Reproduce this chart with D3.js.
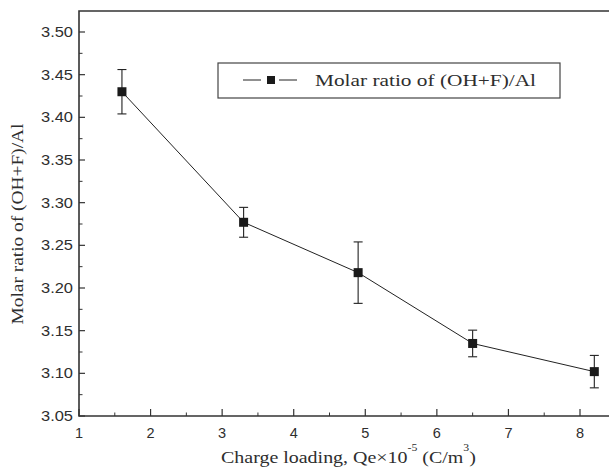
<!DOCTYPE html>
<html>
<head>
<meta charset="utf-8">
<script src="https://cdn.jsdelivr.net/npm/d3@7"></script>
<style>
  body { margin: 0; background: #fff; }
  svg { display: block; }
</style>
</head>
<body>
<div id="chart"></div>
<script>
// charge loading (x) and molar ratio (y) with error half-widths
const chargeLoading = [1.6, 3.3, 4.9, 6.5, 8.2];
const molarRatio = [3.430, 3.277, 3.218, 3.135, 3.102];
const errHalf = [0.026, 0.0175, 0.036, 0.0156, 0.019];
const xTicks = [1, 2, 3, 4, 5, 6, 7, 8];
const yTicks = [3.05, 3.10, 3.15, 3.20, 3.25, 3.30, 3.35, 3.40, 3.45, 3.50];

const width = 609, height = 471;
const margin = { left: 79, top: 11, bottom: 416 };

const svg = d3.select('#chart').append('svg')
  .attr('width', width)
  .attr('height', height);

const x = d3.scaleLinear().domain([1, 8]).range([margin.left, 580]);
const y = d3.scaleLinear().domain([3.05, 3.50]).range([margin.bottom, 32]);

const axisColor = '#333';
const textColor = '#2e2e2e';
const right = x(8.6);
const sans = "'Liberation Sans', Arial, sans-serif";
const serif = "'Liberation Serif', 'Times New Roman', serif";

// stretch a text horizontally so it spans w pixels from x0
function fitWidth(t, x0, w) {
  const bw = t.node().getBBox().width;
  t.attr('transform', `translate(${x0},0) scale(${w / bw},1) translate(${-x0},0)`);
}

// frame (right side is cropped off in the original)
svg.append('path')
  .attr('d', `M${right},${margin.top}H${margin.left}V${margin.bottom}H${right}`)
  .attr('fill', 'none')
  .attr('stroke', axisColor)
  .attr('stroke-width', 1.6);

// y ticks (inward)
const yMinor = d3.range(3.075, 3.52, 0.05);
svg.append('g').selectAll('line.maj')
  .data(yTicks).enter().append('line')
  .attr('x1', margin.left).attr('x2', margin.left + 6)
  .attr('y1', d => y(d)).attr('y2', d => y(d))
  .attr('stroke', axisColor).attr('stroke-width', 1.2);
svg.append('g').selectAll('line.min')
  .data(yMinor).enter().append('line')
  .attr('x1', margin.left).attr('x2', margin.left + 3.5)
  .attr('y1', d => y(d)).attr('y2', d => y(d))
  .attr('stroke', axisColor).attr('stroke-width', 1);
svg.append('g').selectAll('text')
  .data(yTicks).enter().append('text')
  .attr('x', 41).attr('y', d => y(d) + 5)
  .attr('textLength', 32)
  .attr('lengthAdjust', 'spacingAndGlyphs')
  .attr('font-family', sans)
  .attr('font-size', 14.5)
  .attr('fill', textColor)
  .text(d => d3.format('.2f')(d));

// x ticks (inward)
const xMinor = d3.range(1.5, 8.6, 1);
svg.append('g').selectAll('line.maj')
  .data(xTicks).enter().append('line')
  .attr('x1', d => x(d)).attr('x2', d => x(d))
  .attr('y1', margin.bottom).attr('y2', margin.bottom - 7)
  .attr('stroke', axisColor).attr('stroke-width', 1.2);
svg.append('g').selectAll('line.min')
  .data(xMinor).enter().append('line')
  .attr('x1', d => x(d)).attr('x2', d => x(d))
  .attr('y1', margin.bottom).attr('y2', margin.bottom - 3.5)
  .attr('stroke', axisColor).attr('stroke-width', 1);
svg.append('g').selectAll('text')
  .data(xTicks).enter().append('text')
  .attr('x', d => x(d)).attr('y', 438)
  .attr('text-anchor', 'middle')
  .attr('font-family', sans)
  .attr('font-size', 14.5)
  .attr('fill', textColor)
  .text(d => d);

// axis titles
svg.append('text')
  .attr('transform', `translate(23,${y(3.275)}) rotate(-90)`)
  .attr('text-anchor', 'middle')
  .attr('textLength', 201)
  .attr('lengthAdjust', 'spacingAndGlyphs')
  .attr('font-family', serif)
  .attr('font-size', 16)
  .attr('fill', textColor)
  .text('Molar ratio of (OH+F)/Al');

const xt = svg.append('text')
  .attr('x', 221).attr('y', 463)
  .attr('font-family', serif)
  .attr('font-size', 17)
  .attr('fill', textColor);
xt.append('tspan').text('Charge loading, Qe\u00d710');
xt.append('tspan').attr('dy', -12).attr('font-size', 10).text('-5');
xt.append('tspan').attr('dy', 12).text(' (C/m');
xt.append('tspan').attr('dy', -12).attr('font-size', 10).text('3');
xt.append('tspan').attr('dy', 12).text(')');
fitWidth(xt, 221, 255);

const pts = chargeLoading.map((c, i) => ({ x: c, y: molarRatio[i], e: errHalf[i] }));

// error bars
const eb = svg.append('g').attr('stroke', '#222').attr('stroke-width', 1.1);
eb.selectAll('line.v').data(pts).enter().append('line')
  .attr('x1', d => x(d.x)).attr('x2', d => x(d.x))
  .attr('y1', d => y(d.y + d.e)).attr('y2', d => y(d.y - d.e));
eb.selectAll('line.t').data(pts).enter().append('line')
  .attr('x1', d => x(d.x) - 4.5).attr('x2', d => x(d.x) + 4.5)
  .attr('y1', d => y(d.y + d.e)).attr('y2', d => y(d.y + d.e));
eb.selectAll('line.b').data(pts).enter().append('line')
  .attr('x1', d => x(d.x) - 4.5).attr('x2', d => x(d.x) + 4.5)
  .attr('y1', d => y(d.y - d.e)).attr('y2', d => y(d.y - d.e));

// series line
svg.append('path')
  .datum(pts)
  .attr('fill', 'none')
  .attr('stroke', '#222')
  .attr('stroke-width', 1)
  .attr('d', d3.line().x(d => x(d.x)).y(d => y(d.y)));

// markers
svg.append('g').selectAll('rect')
  .data(pts).enter().append('rect')
  .attr('x', d => x(d.x) - 4.5).attr('y', d => y(d.y) - 4.5)
  .attr('width', 9).attr('height', 9)
  .attr('fill', '#1a1a1a');

// legend
const lg = svg.append('g');
lg.append('rect')
  .attr('x', 218).attr('y', 63)
  .attr('width', 342).attr('height', 35)
  .attr('fill', '#fff')
  .attr('stroke', '#444').attr('stroke-width', 1.2);
lg.append('line')
  .attr('x1', 243).attr('x2', 261).attr('y1', 80).attr('y2', 80)
  .attr('stroke', '#222').attr('stroke-width', 1);
lg.append('line')
  .attr('x1', 279).attr('x2', 297).attr('y1', 80).attr('y2', 80)
  .attr('stroke', '#222').attr('stroke-width', 1);
lg.append('rect')
  .attr('x', 267).attr('y', 76).attr('width', 8).attr('height', 8)
  .attr('fill', '#1a1a1a');
lg.append('text')
  .attr('x', 315).attr('y', 86)
  .attr('textLength', 221)
  .attr('lengthAdjust', 'spacingAndGlyphs')
  .attr('font-family', serif)
  .attr('font-size', 17)
  .attr('fill', textColor)
  .text('Molar ratio of (OH+F)/Al');
</script>
</body>
</html>
